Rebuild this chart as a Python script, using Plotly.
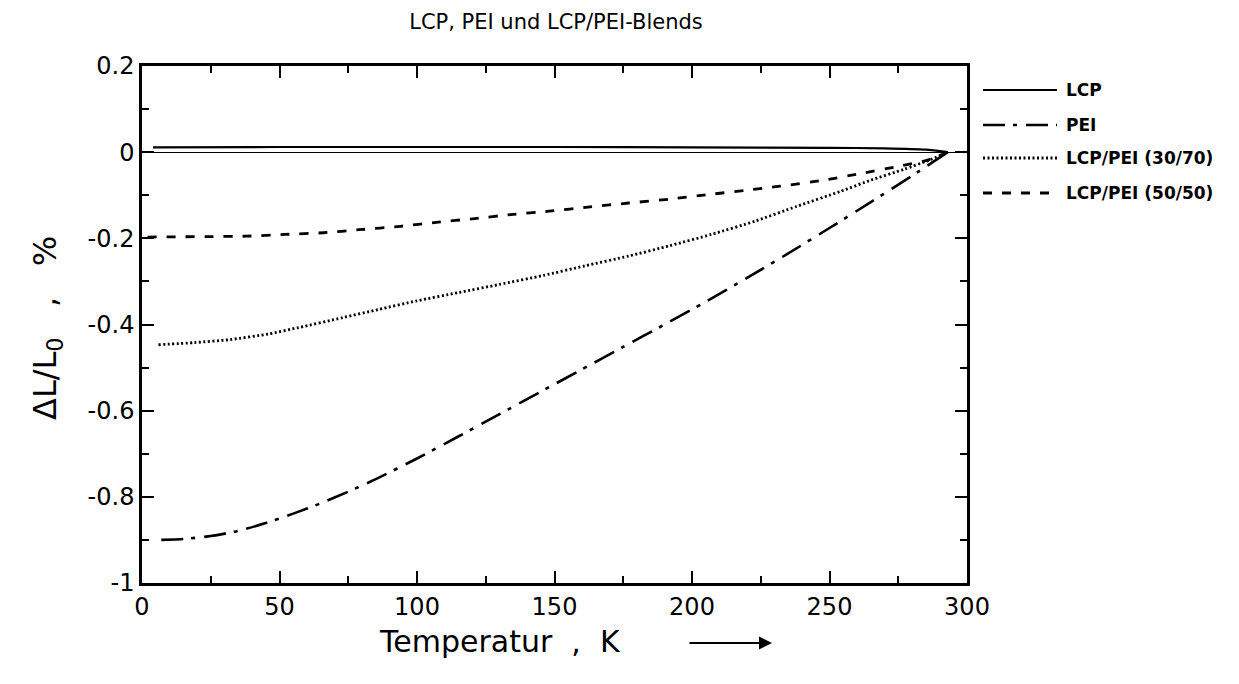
import plotly.graph_objects as go

# ---- data ----
T_lcp = [4, 50, 100, 150, 200, 250, 270, 285, 293]
lcp = [0.011, 0.012, 0.012, 0.012, 0.011, 0.010, 0.009, 0.006, 0.0]

T_pei = [7, 15, 25, 35, 45, 55, 65, 75, 85, 100, 115, 130, 145, 160, 175, 190, 205,
         220, 235, 250, 265, 280, 293]
pei = [-0.900, -0.898, -0.891, -0.879, -0.861, -0.839, -0.815, -0.788, -0.759, -0.711,
       -0.660, -0.608, -0.556, -0.504, -0.452, -0.400, -0.347, -0.292, -0.235, -0.176,
       -0.116, -0.055, 0.0]

T_30 = [6, 19, 32, 46, 57, 73, 86, 100, 115, 130, 146, 161, 177, 192, 207, 223, 238,
        254, 265, 277, 286, 293]
b30 = [-0.447, -0.442, -0.435, -0.422, -0.407, -0.384, -0.365, -0.345, -0.326, -0.307,
       -0.286, -0.264, -0.241, -0.217, -0.191, -0.160, -0.126, -0.091, -0.065, -0.040,
       -0.019, 0.0]

T_50 = [2, 23, 38, 52, 66, 79, 94, 107, 121, 134, 148, 163, 177, 192, 205, 219, 232,
        248, 261, 275, 286, 293]
b50 = [-0.197, -0.196, -0.195, -0.191, -0.187, -0.180, -0.172, -0.163, -0.154, -0.145,
       -0.137, -0.127, -0.118, -0.109, -0.099, -0.089, -0.079, -0.065, -0.050, -0.033,
       -0.018, 0.0]

names = ["LCP", "PEI", "LCP/PEI (30/70)", "LCP/PEI (50/50)"]
x_ticks = [0, 50, 100, 150, 200, 250, 300]
x_ticktext = ["0", "50", "100", "150", "200", "250", "300"]
y_ticks = [0.2, 0, -0.2, -0.4, -0.6, -0.8, -1]
y_ticktext = ["0.2", "0", "-0.2", "-0.4", "-0.6", "-0.8", "-1"]

# ---- styles ----
W, H = 1239, 684
L, R, TOP, BOT = 142, 967, 66, 583
dashes = ["solid", "22px,8px,4px,9px", "2px,2.5px", "9px,10px"]
widths = [2.2, 2.6, 2.8, 2.8]
FONT = "DejaVu Sans"

fig = go.Figure()
series = [(T_lcp, lcp), (T_pei, pei), (T_30, b30), (T_50, b50)]
for (xs, ys), nm, d, w in zip(series, names, dashes, widths):
    fig.add_trace(go.Scatter(x=xs, y=ys, mode="lines", name=nm, showlegend=False,
                             line=dict(color="black", width=w, dash=d, shape="spline",
                                       smoothing=0.6)))

axis_common = dict(showline=True, linecolor="black", linewidth=2.5, mirror="ticks",
                   ticks="inside", ticklen=12, tickwidth=2, tickcolor="black",
                   showgrid=False, tickfont=dict(family=FONT, size=24, color="black"))
fig.update_xaxes(range=[0, 300], tickvals=x_ticks, ticktext=x_ticktext, zeroline=False,
                 minor=dict(ticks="inside", ticklen=7, tickwidth=1.5, tickcolor="black",
                            dtick=25, tick0=0, showgrid=False),
                 **axis_common)
fig.update_yaxes(range=[-1, 0.2], tickvals=y_ticks, ticktext=y_ticktext,
                 zeroline=True, zerolinecolor="black", zerolinewidth=1.2,
                 minor=dict(ticks="inside", ticklen=7, tickwidth=1.5, tickcolor="black",
                            dtick=0.1, tick0=0, showgrid=False),
                 **axis_common)


def px(x):
    return (x - L) / (R - L)


def py(y):
    return (BOT - y) / (BOT - TOP)


shapes = []
annotations = []
leg_y = [90, 125, 158, 193]
for nm, d, w, yy in zip(names, dashes, widths, leg_y):
    shapes.append(dict(type="line", xref="paper", yref="paper",
                       x0=px(983), x1=px(1057), y0=py(yy), y1=py(yy),
                       line=dict(color="black", width=w, dash=d)))
    annotations.append(dict(xref="paper", yref="paper", x=px(1064), y=py(yy),
                            text="<b>" + nm + "</b>", showarrow=False,
                            xanchor="left", yanchor="middle",
                            font=dict(family=FONT, size=17, color="black")))

annotations.append(dict(xref="paper", yref="paper", x=px(47), y=py(328),
                        text="ΔL/L<sub>0</sub>   ,   %", textangle=-90, showarrow=False,
                        xanchor="center", yanchor="middle",
                        font=dict(family=FONT, size=32, color="black")))
annotations.append(dict(xref="paper", yref="paper", x=px(500), y=py(641),
                        text="Temperatur  ,  K", showarrow=False,
                        xanchor="center", yanchor="middle",
                        font=dict(family=FONT, size=30, color="black")))
annotations.append(dict(xref="paper", yref="paper", x=px(772), y=py(643),
                        ax=-84, ay=0, axref="pixel", ayref="pixel",
                        text="", showarrow=True, arrowhead=2, arrowsize=1.3,
                        arrowwidth=2, arrowcolor="black"))

fig.update_layout(
    width=W, height=H,
    margin=dict(l=L, r=W - R, t=TOP, b=H - BOT),
    paper_bgcolor="white", plot_bgcolor="white",
    title=dict(text="LCP, PEI und LCP/PEI-Blends", x=556 / W, xanchor="center",
               y=1 - 22 / H, yanchor="middle",
               font=dict(family=FONT, size=21, color="black")),
    shapes=shapes, annotations=annotations, showlegend=False,
)

fig.write_html("out.html")
